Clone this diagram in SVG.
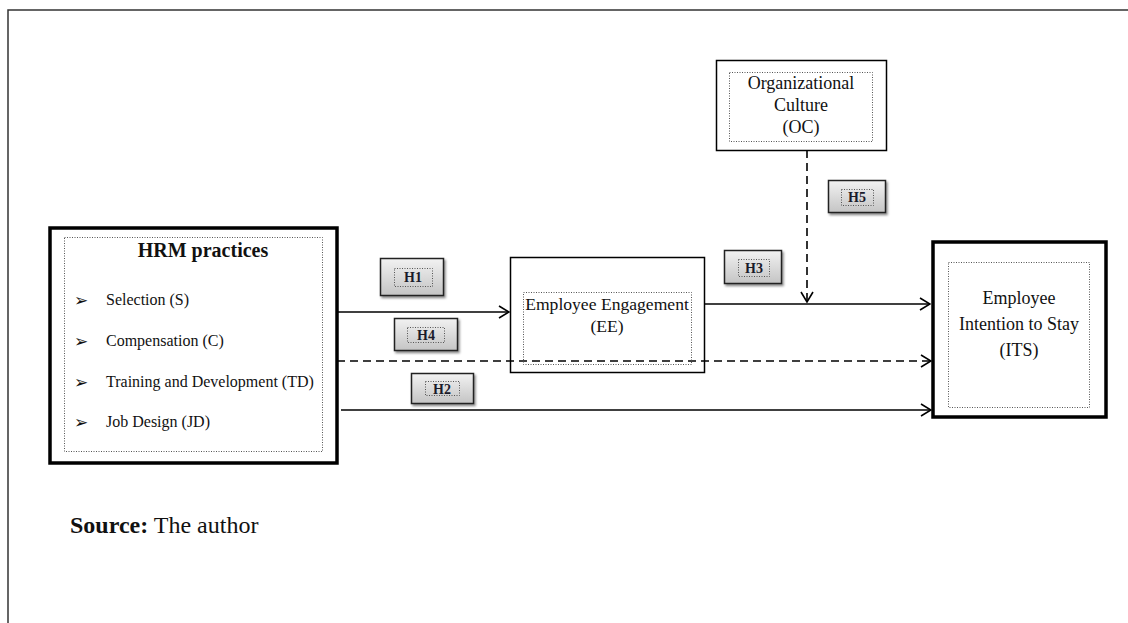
<svg xmlns="http://www.w3.org/2000/svg" width="1128" height="623" viewBox="0 0 1128 623">
  <style>
    text { font-family: 'Liberation Serif', 'DejaVu Serif', serif; fill: #111; }
    .box { fill: #fff; stroke: #000; }
    .inner { fill: none; stroke: #555; stroke-width: 1; stroke-dasharray: 1 1.5; }
    .conn { fill: none; stroke: #000; stroke-width: 1.6; }
    .dash { stroke-dasharray: 8 5; }
    .hbox { fill: url(#hgrad); stroke: #222; stroke-width: 1.5; filter: url(#shadow); }
    .hlabel { font-weight: bold; font-size: 14px; fill: #1a1a2a; text-anchor: middle; }
    .item { font-size: 16px; }
    .bullet { font-size: 17px; }
    .mid { font-size: 18px; text-anchor: middle; }
    .ee { font-size: 17.6px; }
  </style>
  <defs>
    <linearGradient id="hgrad" x1="0" y1="0" x2="0" y2="1">
      <stop offset="0" stop-color="#f2f2f2"/>
      <stop offset="1" stop-color="#c4c4c4"/>
    </linearGradient>
    <filter id="shadow" x="-20%" y="-20%" width="150%" height="160%">
      <feDropShadow dx="1.5" dy="2" stdDeviation="1" flood-color="#000" flood-opacity="0.45"/>
    </filter>
    <marker id="chev" viewBox="0 0 12 14" refX="11" refY="7" markerWidth="12" markerHeight="14" markerUnits="userSpaceOnUse" orient="auto">
      <path d="M1,1 L11,7 L1,13" fill="none" stroke="#000" stroke-width="1.6"/>
    </marker>
  </defs>

  <rect x="0" y="0" width="1128" height="623" fill="#fff"/>

  <!-- page frame (top and left rules) -->
  <path d="M8,623 V10 H1128" fill="none" stroke="#333" stroke-width="1.5"/>

  <!-- connectors -->
  <g id="connectors">
    <line class="conn" x1="337" y1="312" x2="509" y2="312" marker-end="url(#chev)"/>
    <line class="conn" x1="705" y1="304" x2="930" y2="304" marker-end="url(#chev)"/>
    <line class="conn dash" x1="807" y1="150" x2="807" y2="302" marker-end="url(#chev)"/>
    <line class="conn dash" x1="337" y1="361" x2="931" y2="361" marker-end="url(#chev)"/>
    <line class="conn" x1="341" y1="410" x2="931" y2="410" marker-end="url(#chev)"/>
  </g>

  <!-- HRM practices -->
  <g id="hrm">
    <rect class="box" x="50" y="228" width="287" height="235" stroke-width="3.5"/>
    <rect class="inner" x="64.5" y="237.5" width="258" height="214"/>
    <text x="203" y="257" font-size="20" font-weight="bold" text-anchor="middle">HRM practices</text>
    <g class="item">
      <text class="bullet" x="74" y="306">➢</text>
      <text x="106" y="305">Selection (S)</text>
      <text class="bullet" x="74" y="347">➢</text>
      <text x="106" y="346">Compensation (C)</text>
      <text class="bullet" x="74" y="388">➢</text>
      <text x="106" y="387">Training and Development (TD)</text>
      <text class="bullet" x="74" y="428">➢</text>
      <text x="106" y="427">Job Design (JD)</text>
    </g>
  </g>

  <!-- Employee Engagement -->
  <g id="ee">
    <rect class="box" x="510.5" y="257.5" width="194" height="115" stroke-width="1.5" fill-opacity="0"/>
    <rect class="inner" x="523.5" y="292.5" width="168" height="72"/>
    <text class="mid ee" x="607" y="310">Employee Engagement</text>
    <text class="mid ee" x="607" y="332">(EE)</text>
  </g>

  <!-- Organizational Culture -->
  <g id="oc">
    <rect class="box" x="716.5" y="60.5" width="170" height="90" stroke-width="1.5"/>
    <rect class="inner" x="729.5" y="72.5" width="143" height="69"/>
    <text class="mid" x="801" y="89">Organizational</text>
    <text class="mid" x="801" y="111">Culture</text>
    <text class="mid" x="801" y="133">(OC)</text>
  </g>

  <!-- Employee Intention to Stay -->
  <g id="its">
    <rect class="box" x="933" y="242" width="173" height="175" stroke-width="3.5"/>
    <rect class="inner" x="948.5" y="262.5" width="141" height="145"/>
    <text class="mid" x="1019" y="304">Employee</text>
    <text class="mid" x="1019" y="330">Intention to Stay</text>
    <text class="mid" x="1019" y="356">(ITS)</text>
  </g>

  <!-- hypothesis labels -->
  <g id="h1">
    <rect class="hbox" x="380.5" y="258.5" width="63" height="37"/>
    <rect class="inner" x="394.5" y="268.5" width="38" height="18"/>
    <text class="hlabel" x="413" y="282">H1</text>
  </g>
  <g id="h4">
    <rect class="hbox" x="394.5" y="318.5" width="63" height="32"/>
    <rect class="inner" x="407.5" y="327.5" width="37" height="15"/>
    <text class="hlabel" x="426" y="340">H4</text>
  </g>
  <g id="h2">
    <rect class="hbox" x="411.5" y="373.5" width="62" height="30"/>
    <rect class="inner" x="425.5" y="381.5" width="34" height="14"/>
    <text class="hlabel" x="442" y="394">H2</text>
  </g>
  <g id="h3">
    <rect class="hbox" x="724.5" y="250.5" width="57" height="33"/>
    <rect class="inner" x="738.5" y="259.5" width="31" height="17"/>
    <text class="hlabel" x="754" y="273">H3</text>
  </g>
  <g id="h5">
    <rect class="hbox" x="828.5" y="180.5" width="57" height="32"/>
    <rect class="inner" x="841.5" y="189.5" width="32" height="16"/>
    <text class="hlabel" x="857" y="202">H5</text>
  </g>

  <!-- source note -->
  <g id="source">
    <text x="70" y="533" font-size="24"><tspan font-weight="bold">Source:</tspan> The author</text>
  </g>
</svg>
